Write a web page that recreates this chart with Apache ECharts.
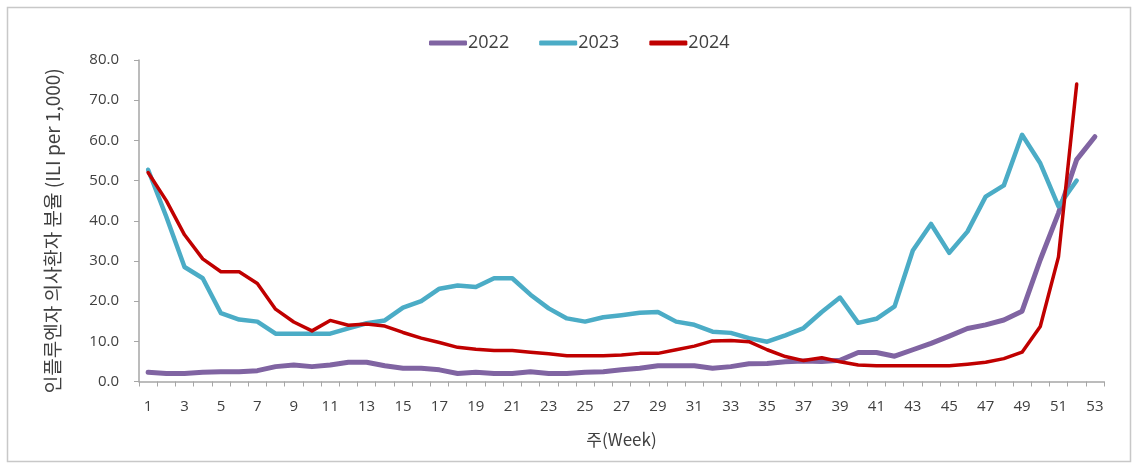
<!DOCTYPE html>
<html>
<head>
<meta charset="utf-8">
<script src="https://cdn.jsdelivr.net/npm/echarts@6/dist/echarts.min.js"></script>
<style>
html,body{margin:0;padding:0;background:#fff;}
#chart{width:1139px;height:467px;}
</style>
</head>
<body>
<div id="chart"></div>
<script>
const weeks = [];
for (let i = 1; i <= 53; i++) weeks.push(String(i));

const seriesNames = ['2022', '2023', '2024'];

const values2022 = [2.3, 2.0, 2.0, 2.3, 2.4, 2.4, 2.7, 3.7, 4.1, 3.7,
  4.1, 4.8, 4.8, 3.9, 3.3, 3.3, 2.9, 2.0, 2.3, 2.0,
  2.0, 2.4, 2.0, 2.0, 2.3, 2.4, 2.9, 3.3, 3.9, 3.9,
  3.9, 3.3, 3.7, 4.4, 4.5, 4.9, 5.1, 5.0, 5.3, 7.2,
  7.2, 6.3, 7.9, 9.5, 11.3, 13.2, 14.1, 15.3, 17.5, 30.3,
  41.9, 55.2, 60.9];

const values2023 = [52.7, 41.0, 28.5, 25.7, 17.0, 15.4, 14.9, 11.9, 11.9, 11.9,
  11.9, 13.2, 14.5, 15.2, 18.4, 20.0, 23.1, 23.9, 23.5, 25.7,
  25.7, 21.6, 18.2, 15.7, 14.9, 16.0, 16.5, 17.1, 17.3, 14.9,
  14.1, 12.4, 12.1, 10.8, 9.9, 11.5, 13.3, 17.3, 20.9, 14.6,
  15.6, 18.7, 32.6, 39.2, 32.0, 37.3, 46.0, 48.8, 61.4, 54.3,
  43.6, 50.0];

const values2024 = [52.0, 45.0, 36.5, 30.5, 27.3, 27.3, 24.4, 18.0, 14.8, 12.6,
  15.2, 14.0, 14.3, 13.8, 12.2, 10.8, 9.7, 8.5, 8.0, 7.7,
  7.7, 7.3, 6.9, 6.4, 6.4, 6.4, 6.6, 7.0, 7.0, 7.9,
  8.8, 10.1, 10.2, 9.9, 7.9, 6.2, 5.2, 5.9, 4.9, 4.1,
  3.9, 3.9, 3.9, 3.9, 3.9, 4.3, 4.8, 5.7, 7.3, 13.7,
  31.0, 74.0];

const yAxisTitle = '인플루엔자 의사환자 분율 (ILI per 1,000)';
const xAxisTitle = '주(Week)';

const colors = ['#8064A2', '#4BACC6', '#C00000'];
const widths = [5, 4.5, 3.5];
const allValues = [values2022, values2023, values2024];

const chart = echarts.init(document.getElementById('chart'), null, {renderer: 'canvas'});
const font = '"Open Sans", "Noto Sans CJK KR", sans-serif';
const krFont = '"Noto Sans CJK KR", "Noto Sans", sans-serif';

chart.setOption({
  animation: false,
  backgroundColor: '#ffffff',
  color: colors,
  graphic: [{
    type: 'rect',
    shape: {x: 7.5, y: 7.5, width: 1123, height: 454},
    style: {fill: 'none', stroke: '#c8c8c8', lineWidth: 1.5},
    silent: true
  }],
  legend: {
    data: seriesNames,
    left: 424,
    top: 29,
    icon: 'roundRect',
    itemWidth: 38,
    itemHeight: 5,
    itemGap: 30,
    textStyle: {fontFamily: font, fontSize: 18, color: '#404040', padding: [0, 0, 0, -4]}
  },
  grid: {left: 139, right: 35, top: 60, bottom: 85.5, containLabel: false},
  xAxis: {
    type: 'category',
    data: weeks,
    boundaryGap: true,
    name: xAxisTitle,
    nameLocation: 'middle',
    nameGap: 50,
    nameTextStyle: {fontFamily: krFont, fontSize: 17, color: '#404040'},
    axisLine: {lineStyle: {color: '#a6a6a6', width: 1.5}},
    axisTick: {show: true, interval: 0, length: 5, alignWithLabel: false, lineStyle: {color: '#a6a6a6'}},
    axisLabel: {interval: 1, margin: 18, fontFamily: font, fontSize: 15, color: '#404040'},
    splitLine: {show: false}
  },
  yAxis: {
    type: 'value',
    min: 0,
    max: 80,
    interval: 10,
    name: yAxisTitle,
    nameLocation: 'middle',
    nameRotate: 90,
    nameGap: 77,
    nameTextStyle: {fontFamily: krFont, fontSize: 19, color: '#404040', padding: [0, 20, 0, 0]},
    axisLine: {show: true, lineStyle: {color: '#a6a6a6', width: 1.5}},
    axisTick: {show: true, length: 5, lineStyle: {color: '#a6a6a6'}},
    axisLabel: {margin: 20, fontFamily: font, fontSize: 15, color: '#404040', formatter: v => v.toFixed(1)},
    splitLine: {show: false}
  },
  series: seriesNames.map((name, i) => ({
    name: name,
    type: 'line',
    data: allValues[i],
    showSymbol: false,
    symbol: 'none',
    lineStyle: {color: colors[i], width: widths[i], cap: 'round', join: 'round'},
    itemStyle: {color: colors[i]},
    z: 2 + i
  }))
});
</script>
</body>
</html>
